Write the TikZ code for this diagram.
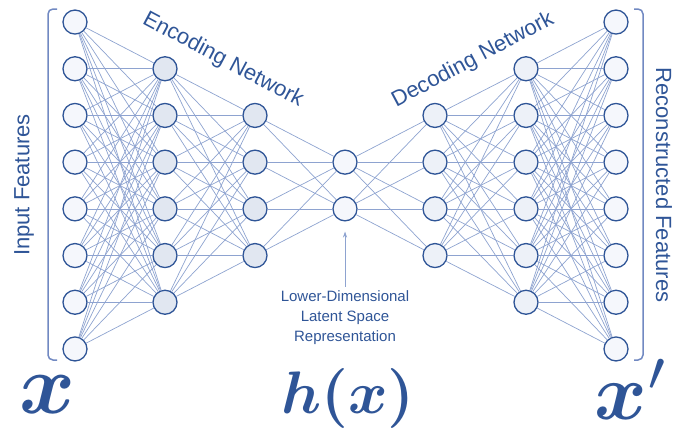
\documentclass[tikz,border=0pt]{standalone}
\usepackage{amsmath}
\usepackage{amssymb}
\usepackage{fontspec}
\usepackage{tikz}
\usetikzlibrary{calc,arrows.meta}
\usepackage{xcolor}
\newfontfamily\labelfont{Liberation Sans}
\definecolor{dark_blue}{HTML}{2F5597}
\definecolor{edge_blue}{HTML}{8EA3D0}
\definecolor{brace_blue}{HTML}{7189C2}
\definecolor{in_fill}{HTML}{F5F7FC}
\definecolor{enc_fill}{HTML}{E1E7F1}
\definecolor{dec_fill}{HTML}{EDF1F8}
\tikzset{
	neuron/.style={circle, draw=dark_blue, line width=1.3pt, minimum size=24pt, inner sep=0pt},
	link/.style={edge_blue, line width=0.7pt},
	bracket/.style={brace_blue, line width=1.5pt, rounded corners=5pt},
	title/.style={font=\labelfont\fontsize{22}{24}\selectfont, text=dark_blue, inner sep=0pt},
	mathlabel/.style={text=dark_blue, inner sep=0pt},
}

\begin{document}
\begin{tikzpicture}[x=1pt, y=-1pt]
	\useasboundingbox (0, 0) rectangle (699, 432);
	\foreach \lx/\n/\col [count=\l] in {75/8/in_fill, 165/6/enc_fill, 255/4/enc_fill, 345/2/in_fill, 435/4/dec_fill, 526/6/dec_fill, 616/8/in_fill}
		\foreach \k in {1,...,\n}
			\node[neuron, fill=\col] (n\l-\k) at (\lx, {185.5 + (\k - (\n + 1) / 2) * 46.7}) {};
	\foreach \a/\na/\b/\nb in {1/8/2/6, 2/6/3/4, 3/4/4/2, 4/2/5/4, 5/4/6/6, 6/6/7/8}
		\foreach \i in {1,...,\na}
			\foreach \j in {1,...,\nb}
				\draw[link] (n\a-\i) -- (n\b-\j);
	\draw[bracket] (57, 9) -- (48, 9) -- (48, 360) -- (57, 360);
	\draw[bracket] (634, 9) -- (643, 9) -- (643, 360) -- (634, 360);
	\node[title, rotate=90] (in_text) at (24, 185) {Input Features};
	\node[title, rotate=-90] (out_text) at (664, 185) {Reconstructed Features};
	\node[title, rotate=-28] (enc_text) at (223, 60) {Encoding Network};
	\node[title, rotate=28] (dec_text) at (473, 60) {Decoding Network};
	\node[text=dark_blue, align=center, font=\labelfont\fontsize{15}{20}\selectfont, inner sep=0pt] (latent_text) at (345, 318) {Lower-Dimensional\\Latent Space\\Representation};
	\draw[link, -{Stealth[length=6pt, width=4pt]}, shorten <=4pt, shorten >=10pt] (latent_text.north) -- (n4-2.south);
	\node[mathlabel, scale=8.5] (x_in) at (48, 395) {$\boldsymbol{x}$};
	\node[mathlabel, scale=6] (h_mid) at (348, 398) {$\boldsymbol{h(x)}$};
	\node[mathlabel, scale=8] (x_out) at (632, 389) {$\boldsymbol{x}^{\prime}$};
\end{tikzpicture}
\end{document}
